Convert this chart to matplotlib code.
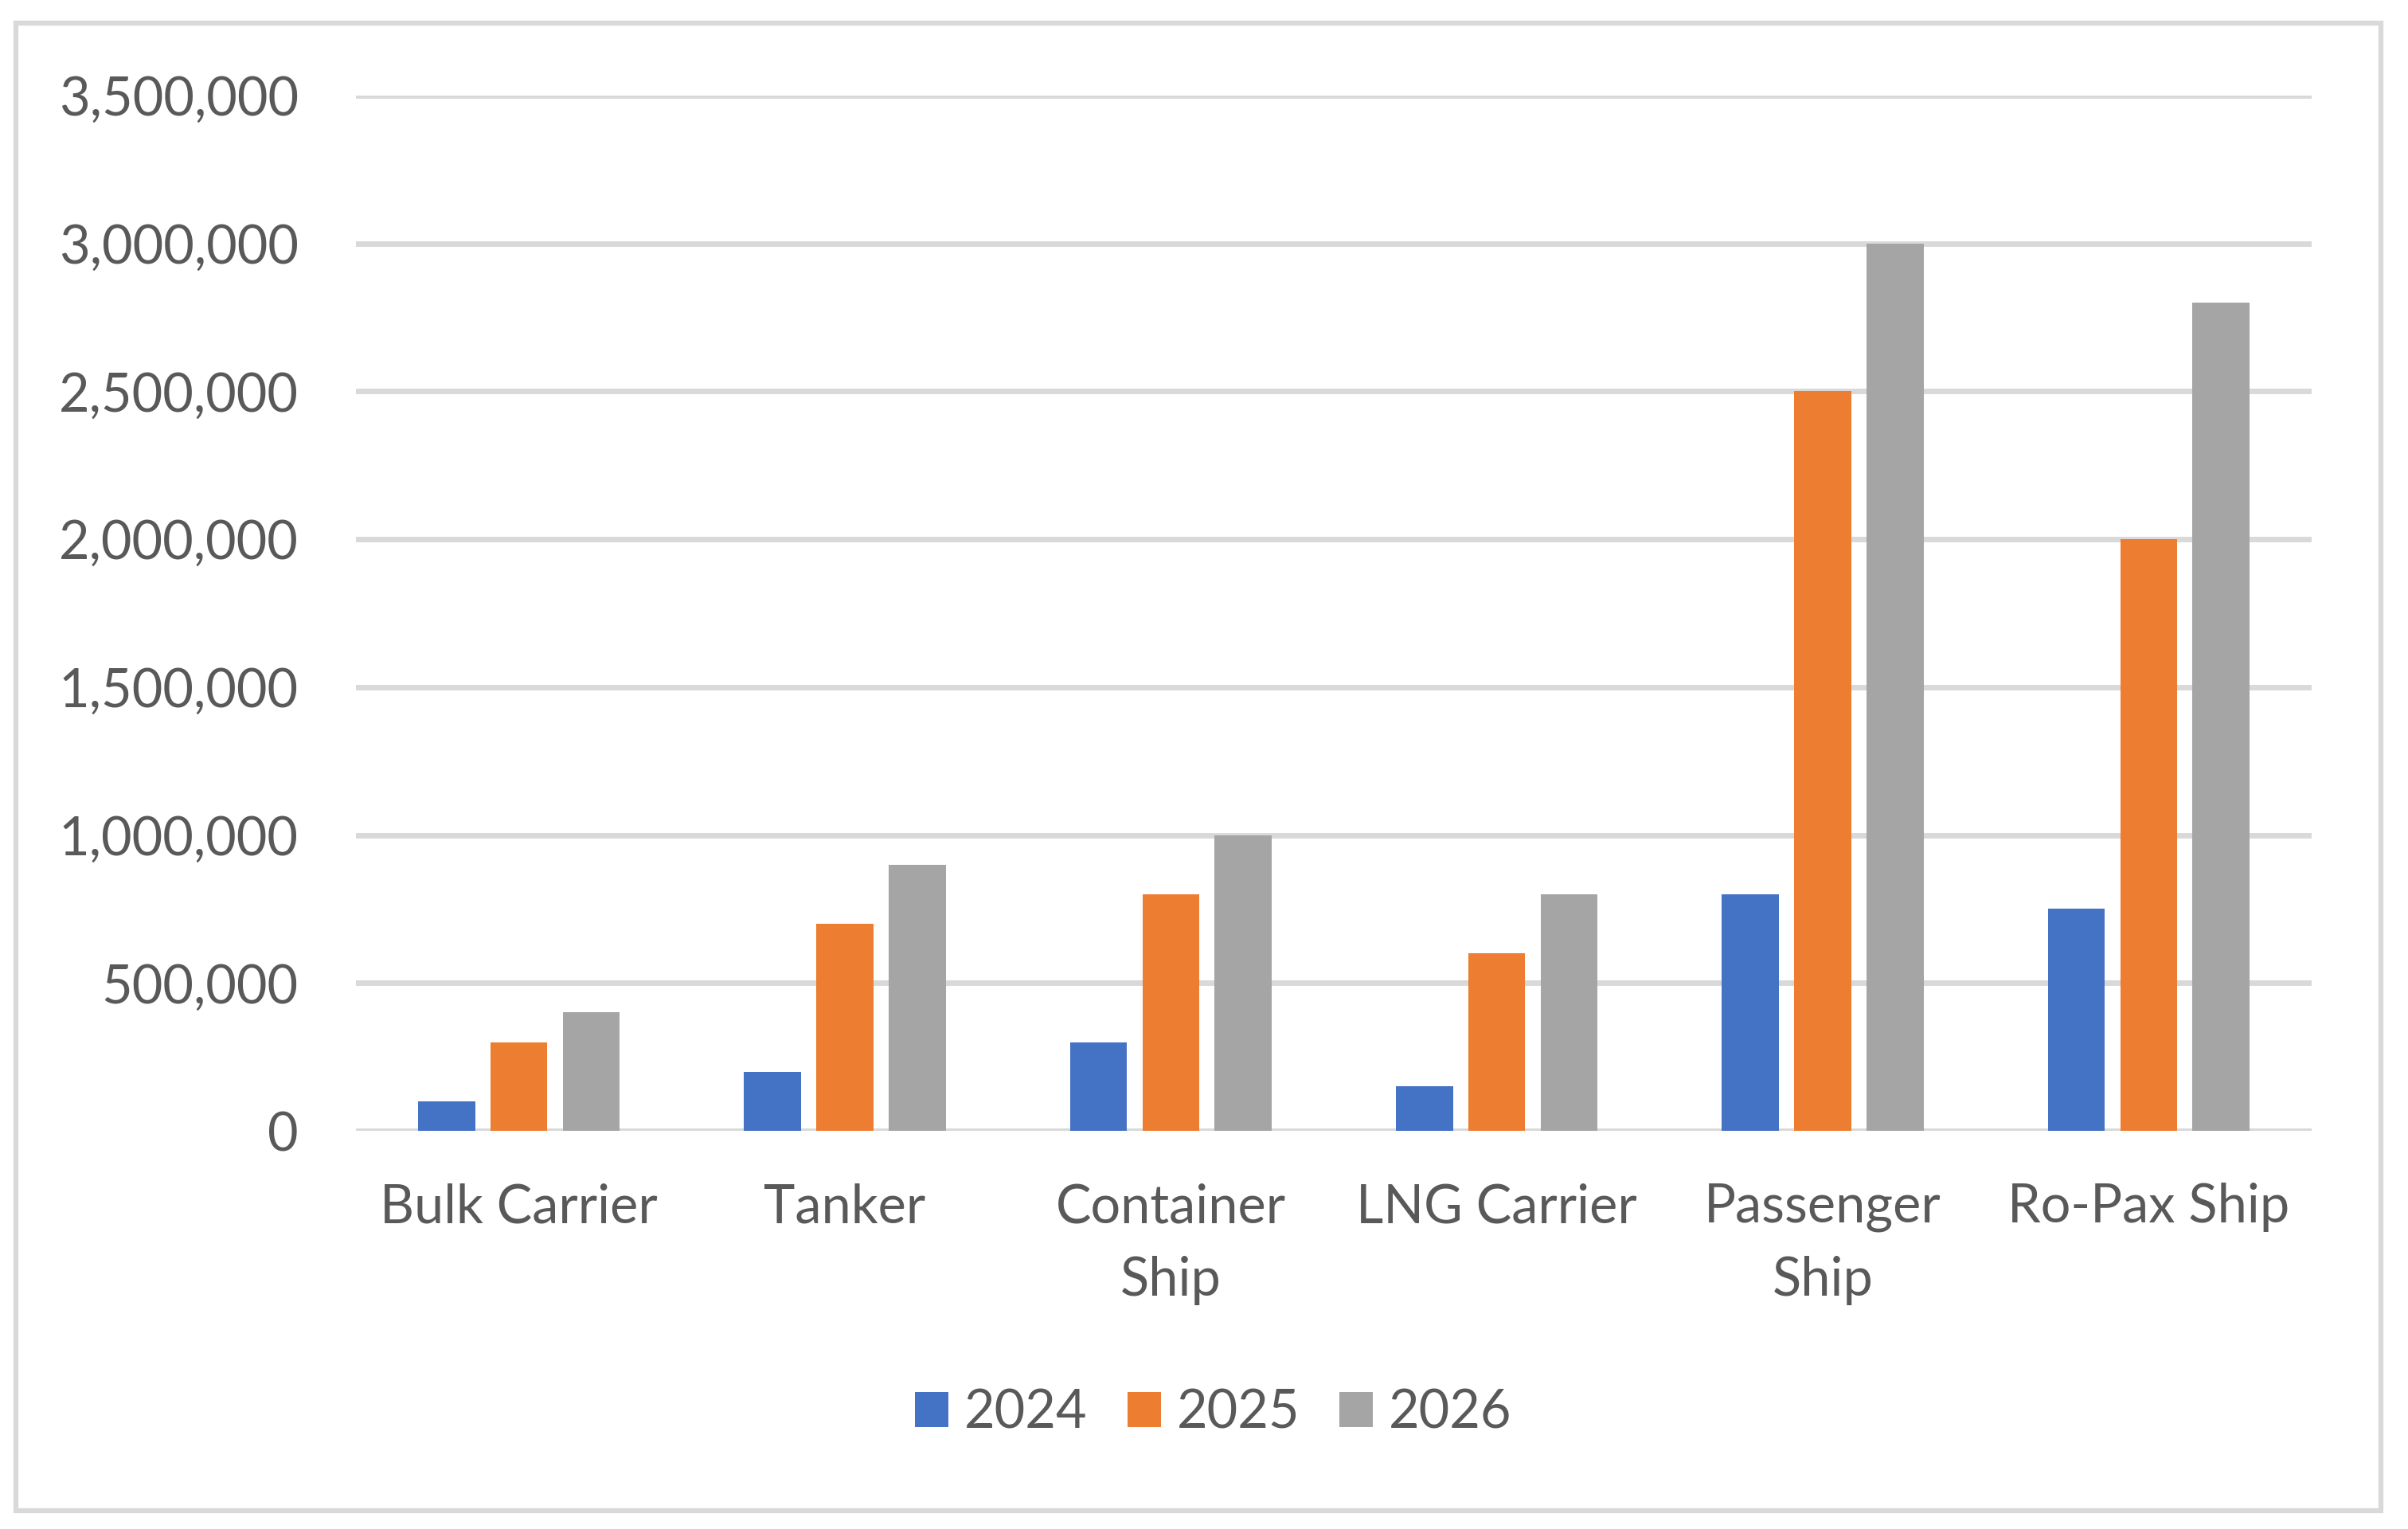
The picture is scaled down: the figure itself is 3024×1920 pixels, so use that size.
"""
Ship type values by year - grouped column chart
"""

import matplotlib
import matplotlib.pyplot as plt
import numpy as np
from matplotlib.patches import Rectangle
from matplotlib.ticker import FuncFormatter, MultipleLocator

matplotlib.use('Agg')

# Data
categories = ['Bulk Carrier', 'Tanker', 'Container\nShip', 'LNG Carrier',
              'Passenger\nShip', 'Ro-Pax Ship']
years = ['2024', '2025', '2026']
values_2024 = [100000, 200000, 300000, 150000, 800000, 750000]
values_2025 = [300000, 700000, 800000, 600000, 2500000, 2000000]
values_2026 = [400000, 900000, 1000000, 800000, 3000000, 2800000]

series = [values_2024, values_2025, values_2026]
colors = ['#4472C4', '#ED7D31', '#A5A5A5']
text_color = '#595959'
grid_color = '#D9D9D9'

plt.rcParams['font.family'] = ['Lato', 'DejaVu Sans']

W, H = 3024, 1920
fig = plt.figure(figsize=(W / 100, H / 100), dpi=100)
fig.patch.set_facecolor('white')

# Outer chart border
left_b, top_b, right_b, bottom_b = 20, 29, 2990, 1897
fig.patches.append(Rectangle((left_b / W, 1 - bottom_b / H), (right_b - left_b) / W,
                             (bottom_b - top_b) / H, transform=fig.transFigure,
                             fill=False, edgecolor=grid_color, linewidth=4.5))

# Plot area
px_left, px_right, px_top, px_zero = 447, 2903, 120, 1420
ax = fig.add_axes([px_left / W, 1 - px_zero / H, (px_right - px_left) / W,
                   (px_zero - px_top) / H])

x = np.arange(len(categories))
bar_w = 0.175
step = 0.222
for i, (vals, col, yr) in enumerate(zip(series, colors, years)):
    ax.bar(x + (i - 1) * step, vals, width=bar_w, color=col, label=yr,
           zorder=3)

ax.set_xlim(-0.5, len(categories) - 0.5)
ax.set_ylim(0, 3500000)
ax.yaxis.set_major_locator(MultipleLocator(500000))
ax.yaxis.set_major_formatter(FuncFormatter(lambda v, p: f'{int(v):,}'))
ax.grid(axis='y', color=grid_color, linewidth=5, zorder=0)
ax.set_axisbelow(True)

for s in ['top', 'right', 'left', 'bottom']:
    ax.spines[s].set_visible(False)

ax.set_xticks(x)
ax.set_xticklabels(categories, linespacing=1.6)
ax.tick_params(axis='both', length=0, colors=text_color, labelsize=48)
ax.tick_params(axis='y', pad=52)
ax.tick_params(axis='x', pad=47)

leg = ax.legend(loc='center', bbox_to_anchor=(790 * 1.929 / W, 1 - 920 * 1.929 / H),
                bbox_transform=fig.transFigure, ncol=3, frameon=False,
                fontsize=48, handlelength=0.63, handleheight=0.63,
                handletextpad=0.3, columnspacing=0.75)
for t in leg.get_texts():
    t.set_color(text_color)

plt.savefig('out.png', dpi=100, facecolor='white')
plt.close()
